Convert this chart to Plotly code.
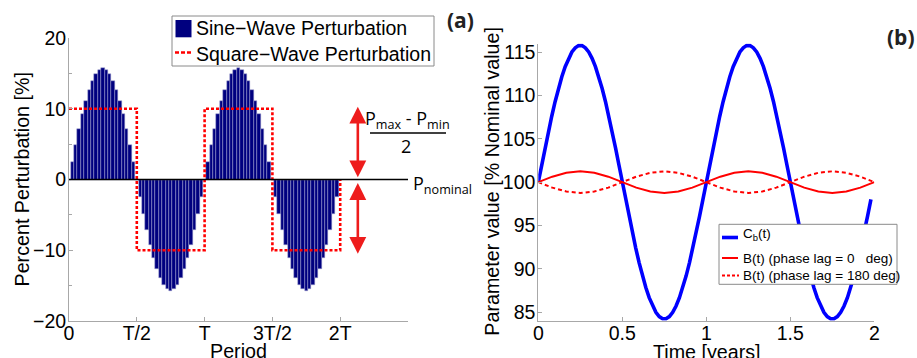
import numpy as np
import plotly.graph_objects as go

W, H = 917, 358

# ---------------- Panel (a) data ----------------
period_x = np.round(np.arange(81) * 0.025, 3)          # bar positions (in periods T)
sine_pct = [0, 2.46, 4.85, 7.13, 9.23, 11.10, 12.70, 13.99, 14.93, 15.51, 15.70,
            15.51, 14.93, 13.99, 12.70, 11.10, 9.23, 7.13, 4.85, 2.46, 0,
            -2.46, -4.85, -7.13, -9.23, -11.10, -12.70, -13.99, -14.93, -15.51, -15.70,
            -15.51, -14.93, -13.99, -12.70, -11.10, -9.23, -7.13, -4.85, -2.46, 0,
            2.46, 4.85, 7.13, 9.23, 11.10, 12.70, 13.99, 14.93, 15.51, 15.70,
            15.51, 14.93, 13.99, 12.70, 11.10, 9.23, 7.13, 4.85, 2.46, 0,
            -2.46, -4.85, -7.13, -9.23, -11.10, -12.70, -13.99, -14.93, -15.51, -15.70,
            -15.51, -14.93, -13.99, -12.70, -11.10, -9.23, -7.13, -4.85, -2.46, 0]
square_x = [0, 0.5, 0.5, 1.0, 1.0, 1.5, 1.5, 2.0, 2.0]
square_pct = [10, 10, -10, -10, 10, 10, -10, -10, 0]
period_tickvals = [0, 0.5, 1.0, 1.5, 2.0]
period_ticktext = ["0", "T/2", "T", "3T/2", "2T"]
pct_tickvals = [-20, -10, 0, 10, 20]

# ---------------- Panel (b) data ----------------
time_cb = np.round(np.arange(100) * 0.02, 2)
cb_val = [100.0, 101.98, 103.93, 105.82, 107.61, 109.29, 110.82, 112.17, 113.34, 114.30,
          115.03, 115.52, 115.77, 115.77, 115.52, 115.03, 114.30, 113.34, 112.17, 110.82,
          109.29, 107.61, 105.82, 103.93, 101.98,
          100.0, 98.02, 96.07, 94.18, 92.39, 90.71, 89.18, 87.83, 86.66, 85.70,
          84.97, 84.48, 84.23, 84.23, 84.48, 84.97, 85.70, 86.66, 87.83, 89.18,
          90.71, 92.39, 94.18, 96.07, 98.02,
          100.0, 101.98, 103.93, 105.82, 107.61, 109.29, 110.82, 112.17, 113.34, 114.30,
          115.03, 115.52, 115.77, 115.77, 115.52, 115.03, 114.30, 113.34, 112.17, 110.82,
          109.29, 107.61, 105.82, 103.93, 101.98,
          100.0, 98.02, 96.07, 94.18, 92.39, 90.71, 89.18, 87.83, 86.66, 85.70,
          84.97, 84.48, 84.23, 84.23, 84.48, 84.97, 85.70, 86.66, 87.83, 89.18,
          90.71, 92.39, 94.18, 96.07, 98.02]
time_b = np.round(np.arange(25) / 12, 4)
b_lag0 = [100, 100.63, 101.08, 101.25, 101.08, 100.63, 100, 99.37, 98.92, 98.75, 98.92, 99.37,
          100, 100.63, 101.08, 101.25, 101.08, 100.63, 100, 99.37, 98.92, 98.75, 98.92, 99.37, 100]
b_lag180 = [100, 99.37, 98.92, 98.75, 98.92, 99.37, 100, 100.63, 101.08, 101.25, 101.08, 100.63,
            100, 99.37, 98.92, 98.75, 98.92, 99.37, 100, 100.63, 101.08, 101.25, 101.08, 100.63, 100]
time_tickvals = [0, 0.5, 1, 1.5, 2]
time_ticktext = ["0", "0.5", "1", "1.5", "2"]
param_tickvals = [85, 90, 95, 100, 105, 110, 115]

legend_a_names = ["Sine\u2212Wave Perturbation", "Square\u2212Wave Perturbation"]
legend_b_names = ["C<sub>b</sub>(t)", "B(t) (phase lag = 0\u00a0\u00a0\u00a0deg)",
                  "B(t) (phase lag = 180 deg)"]

FONT = "Liberation Sans, Arial, Helvetica, sans-serif"
AXC = "#a8a8a8"
NAVY = "#00007f"
RED = "#ff0000"
BLUE = "#0000ff"

fig = go.Figure()
fig.add_trace(go.Bar(x=period_x, y=sine_pct, width=0.025,
                     marker=dict(color=NAVY, line=dict(width=0.5, color="#a0a0d0")),
                     name=legend_a_names[0], xaxis="x", yaxis="y"))
fig.add_trace(go.Scatter(x=square_x, y=square_pct, mode="lines",
                         line=dict(color=RED, width=2.6, dash="3px,2px"),
                         name=legend_a_names[1], xaxis="x", yaxis="y"))
fig.add_trace(go.Scatter(x=time_cb, y=cb_val, mode="lines",
                         line=dict(color=BLUE, width=3.6),
                         name=legend_b_names[0], xaxis="x2", yaxis="y2"))
fig.add_trace(go.Scatter(x=time_b, y=b_lag0, mode="lines",
                         line=dict(color=RED, width=2),
                         name=legend_b_names[1], xaxis="x2", yaxis="y2"))
fig.add_trace(go.Scatter(x=time_b, y=b_lag180, mode="lines",
                         line=dict(color=RED, width=2, dash="4px,3px"),
                         name=legend_b_names[2], xaxis="x2", yaxis="y2"))

tickfont = dict(family=FONT, size=19.5, color="black")
axis_common = dict(showline=True, linecolor=AXC, linewidth=1, ticks="inside",
                   ticklen=4, tickcolor=AXC, showgrid=False, zeroline=False,
                   tickfont=tickfont, automargin=False)

fig.update_layout(
    width=W, height=H, margin=dict(l=0, r=0, t=0, b=0, pad=0, autoexpand=False),
    paper_bgcolor="white", plot_bgcolor="white",
    bargap=0, showlegend=False,
    xaxis=dict(domain=[69 / W, 408 / W], range=[0, 2.5], anchor="y",
               tickvals=period_tickvals, ticktext=period_ticktext,
               ticklabelstandoff=-5, **axis_common),
    yaxis=dict(domain=[1 - 321 / H, 1 - 38 / H], range=[-20, 20], anchor="x",
               tickvals=pct_tickvals, ticklabelstandoff=-2,
               minor=dict(tickvals=[-15, -5, 5, 15], ticks="inside", ticklen=3,
                          tickcolor=AXC, showgrid=False),
               **axis_common),
    xaxis2=dict(domain=[538.3 / W, 874.3 / W], range=[0, 2], anchor="y2",
                tickvals=time_tickvals, ticktext=time_ticktext,
                ticklabelstandoff=-5, **axis_common),
    yaxis2=dict(domain=[1 - 320.7 / H, 1 - 43.6 / H], range=[84, 116], anchor="x2",
                tickvals=param_tickvals, ticklabelstandoff=-2, **axis_common),
)


def px(x):
    return x / W


def py(y):
    return 1 - y / H


shapes = []
# zero reference line (panel a)
shapes.append(dict(type="line", xref="x domain", yref="y", x0=0, x1=1, y0=0, y1=0,
                   line=dict(color="black", width=1.6), layer="above"))
# fraction bar
shapes.append(dict(type="line", xref="paper", yref="paper", x0=px(370), x1=px(446),
                   y0=py(133), y1=py(133), line=dict(color="black", width=1.5)))
# legend (a) box and keys
shapes.append(dict(type="rect", xref="paper", yref="paper", x0=px(172), x1=px(434),
                   y0=py(66), y1=py(16), fillcolor="white",
                   line=dict(color="#8a8a8a", width=1), layer="above"))
shapes.append(dict(type="rect", xref="paper", yref="paper", x0=px(175.5), x1=px(191.5),
                   y0=py(37.3), y1=py(20), fillcolor=NAVY, line=dict(width=0), layer="above"))
shapes.append(dict(type="line", xref="paper", yref="paper", x0=px(175), x1=px(193),
                   y0=py(52.5), y1=py(52.5), line=dict(color=RED, width=2.6, dash="4px,2px"),
                   layer="above"))
# legend (b) box and keys
shapes.append(dict(type="rect", xref="paper", yref="paper", x0=px(719), x1=px(897),
                   y0=py(284.3), y1=py(224.3), fillcolor="white",
                   line=dict(color="#8a8a8a", width=1), layer="above"))
shapes.append(dict(type="line", xref="paper", yref="paper", x0=px(722), x1=px(738),
                   y0=py(237.5), y1=py(237.5), line=dict(color=BLUE, width=3.6), layer="above"))
shapes.append(dict(type="line", xref="paper", yref="paper", x0=px(722), x1=px(738),
                   y0=py(258), y1=py(258), line=dict(color=RED, width=2), layer="above"))
shapes.append(dict(type="line", xref="paper", yref="paper", x0=px(722), x1=px(739),
                   y0=py(275.5), y1=py(275.5), line=dict(color=RED, width=2, dash="3px,2px"),
                   layer="above"))
fig.update_layout(shapes=shapes)

ann = []
# legend texts
leg_a_font = dict(family=FONT, size=19.5, color="black")
ann.append(dict(x=px(194), y=py(28), xref="paper", yref="paper", showarrow=False,
                text=legend_a_names[0], font=leg_a_font, xanchor="left", yanchor="middle"))
ann.append(dict(x=px(194), y=py(54), xref="paper", yref="paper", showarrow=False,
                text=legend_a_names[1], font=leg_a_font, xanchor="left", yanchor="middle"))
leg_b_font = dict(family=FONT, size=13.5, color="black")
ann.append(dict(x=px(740.5), y=py(234.5), xref="paper", yref="paper", showarrow=False,
                text=legend_b_names[0], font=leg_b_font, xanchor="left", yanchor="middle"))
ann.append(dict(x=px(740.5), y=py(258.5), xref="paper", yref="paper", showarrow=False,
                text=legend_b_names[1], font=leg_b_font, xanchor="left", yanchor="middle"))
ann.append(dict(x=px(740.5), y=py(275.5), xref="paper", yref="paper", showarrow=False,
                text=legend_b_names[2], font=leg_b_font, xanchor="left", yanchor="middle"))
# double arrows
ann.append(dict(x=2.13, y=10.3, ax=2.13, ay=0.1, xref="x", yref="y", axref="x", ayref="y",
                showarrow=True, arrowhead=2, startarrowhead=2, arrowside="end+start",
                arrowsize=1.3, startarrowsize=1.3, arrowwidth=2.6, arrowcolor="#ee1c1c", text=""))
ann.append(dict(x=2.13, y=-10.5, ax=2.13, ay=-0.3, xref="x", yref="y", axref="x", ayref="y",
                showarrow=True, arrowhead=2, startarrowhead=2, arrowside="end+start",
                arrowsize=1.3, startarrowsize=1.3, arrowwidth=2.6, arrowcolor="#ee1c1c", text=""))
ann_font = dict(family="Open Sans, sans-serif", size=18, color="black")
ann.append(dict(x=px(407.5), y=py(119), xref="paper", yref="paper", showarrow=False,
                text="P<sub>max</sub> - P<sub>min</sub>", font=ann_font,
                xanchor="center", yanchor="middle"))
ann.append(dict(x=px(406), y=py(146), xref="paper", yref="paper", showarrow=False,
                text="2", font=ann_font, xanchor="center", yanchor="middle"))
ann.append(dict(x=px(411), y=py(184), xref="paper", yref="paper", showarrow=False,
                text="P<sub>nominal</sub>", font=ann_font, xanchor="left", yanchor="middle"))
# axis titles
title_font = dict(family=FONT, size=19.7, color="black")
ann.append(dict(x=px(21), y=py(179.5), xref="paper", yref="paper", showarrow=False,
                text="Percent Perturbation [%]", textangle=-90, font=title_font,
                xanchor="center", yanchor="middle"))
ann.append(dict(x=px(491.7), y=py(181), xref="paper", yref="paper", showarrow=False,
                text="Parameter value [% Nominal value]", textangle=-90, font=title_font,
                xanchor="center", yanchor="middle"))
ann.append(dict(x=px(238.5), y=py(351), xref="paper", yref="paper", showarrow=False,
                text="Period", font=title_font, xanchor="center", yanchor="middle"))
ann.append(dict(x=px(706.5), y=py(352), xref="paper", yref="paper", showarrow=False,
                text="Time [years]", font=title_font, xanchor="center", yanchor="middle"))
# panel labels
lab_font = dict(family="Open Sans, sans-serif", size=21, color="#222222")
ann.append(dict(x=px(460), y=py(20), xref="paper", yref="paper", showarrow=False,
                text="<b>(a)</b>", font=lab_font, xanchor="center", yanchor="middle"))
ann.append(dict(x=px(901), y=py(37), xref="paper", yref="paper", showarrow=False,
                text="<b>(b)</b>", font=lab_font, xanchor="center", yanchor="middle"))
fig.update_layout(annotations=ann)

fig.write_html("out.html", config={"displayModeBar": False},
               post_script="document.body.style.margin='0px';document.body.style.overflow='hidden';")
